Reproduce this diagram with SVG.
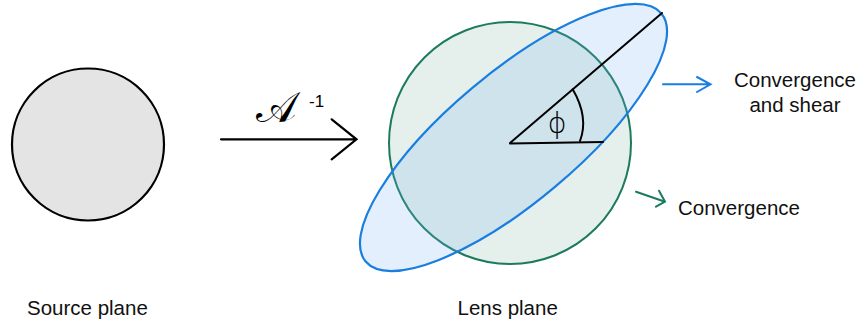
<svg xmlns="http://www.w3.org/2000/svg" width="863" height="329" viewBox="0 0 863 329">
<style>
.lbl{font-family:"Liberation Sans",Arial,sans-serif;font-size:20.5px;fill:#111}
.blk{stroke:#000;stroke-width:2;fill:none;stroke-linecap:round;stroke-linejoin:miter}
</style>
<rect width="863" height="329" fill="#fff"/>
<g id="source">
<circle cx="88" cy="144.5" r="76" fill="#e4e4e4" stroke="#000" stroke-width="2.2"/>
<text class="lbl" x="27" y="315">Source plane</text>
</g>
<g id="lens">
<circle cx="510" cy="143" r="121" fill="#e5f0ec" stroke="#1b7a5f" stroke-width="2"/>
<ellipse cx="513.5" cy="137.5" rx="193" ry="64.5" transform="rotate(-40 513.5 137.5)" fill="rgb(115,175,240)" fill-opacity="0.2" stroke="#1a7ee0" stroke-width="2.2"/>
<text class="lbl" x="457.5" y="315">Lens plane</text>
</g>
<g id="angle">
<path class="blk" d="M510,143 L662,13 M510,143.5 L603,142"/>
<path class="blk" d="M572.7,89.3 Q589,117.4 580,141"/>
<text x="557" y="132.5" text-anchor="middle" font-family="'DejaVu Sans ExtraLight', 'DejaVu Sans', sans-serif" font-weight="200" font-size="29" fill="#000">ϕ</text>
</g>
<g id="label-shear">
<text class="lbl" x="795" y="86.5" text-anchor="middle">Convergence</text>
<text class="lbl" x="795" y="111.5" text-anchor="middle">and shear</text>
</g>
<g id="label-conv">
<text class="lbl" x="678" y="215">Convergence</text>
</g>
<g id="connectors">
<path d="M221,139.3 L356.5,139.3 M331.7,119.3 L356.5,139.3 L331.7,159.3" fill="none" stroke="#000" stroke-width="2.2" stroke-linecap="round"/>
<text x="256" y="122" font-family="'DejaVu Serif', 'Noto Sans', serif" font-size="43" fill="#000">𝒜</text>
<text x="309" y="107" font-family="'Liberation Sans', Arial, sans-serif" font-size="17" fill="#000">-1</text>
<path d="M663,84.3 L710.5,84.3 M697,77 L710.5,84.3 L697,92" fill="none" stroke="#1a7ee0" stroke-width="2" stroke-linecap="round"/>
<path d="M636,191.7 L665,201.7 M659,190.7 L665,201.7 L656,206.7" fill="none" stroke="#1b7a5f" stroke-width="2" stroke-linecap="round"/>
</g>
</svg>
